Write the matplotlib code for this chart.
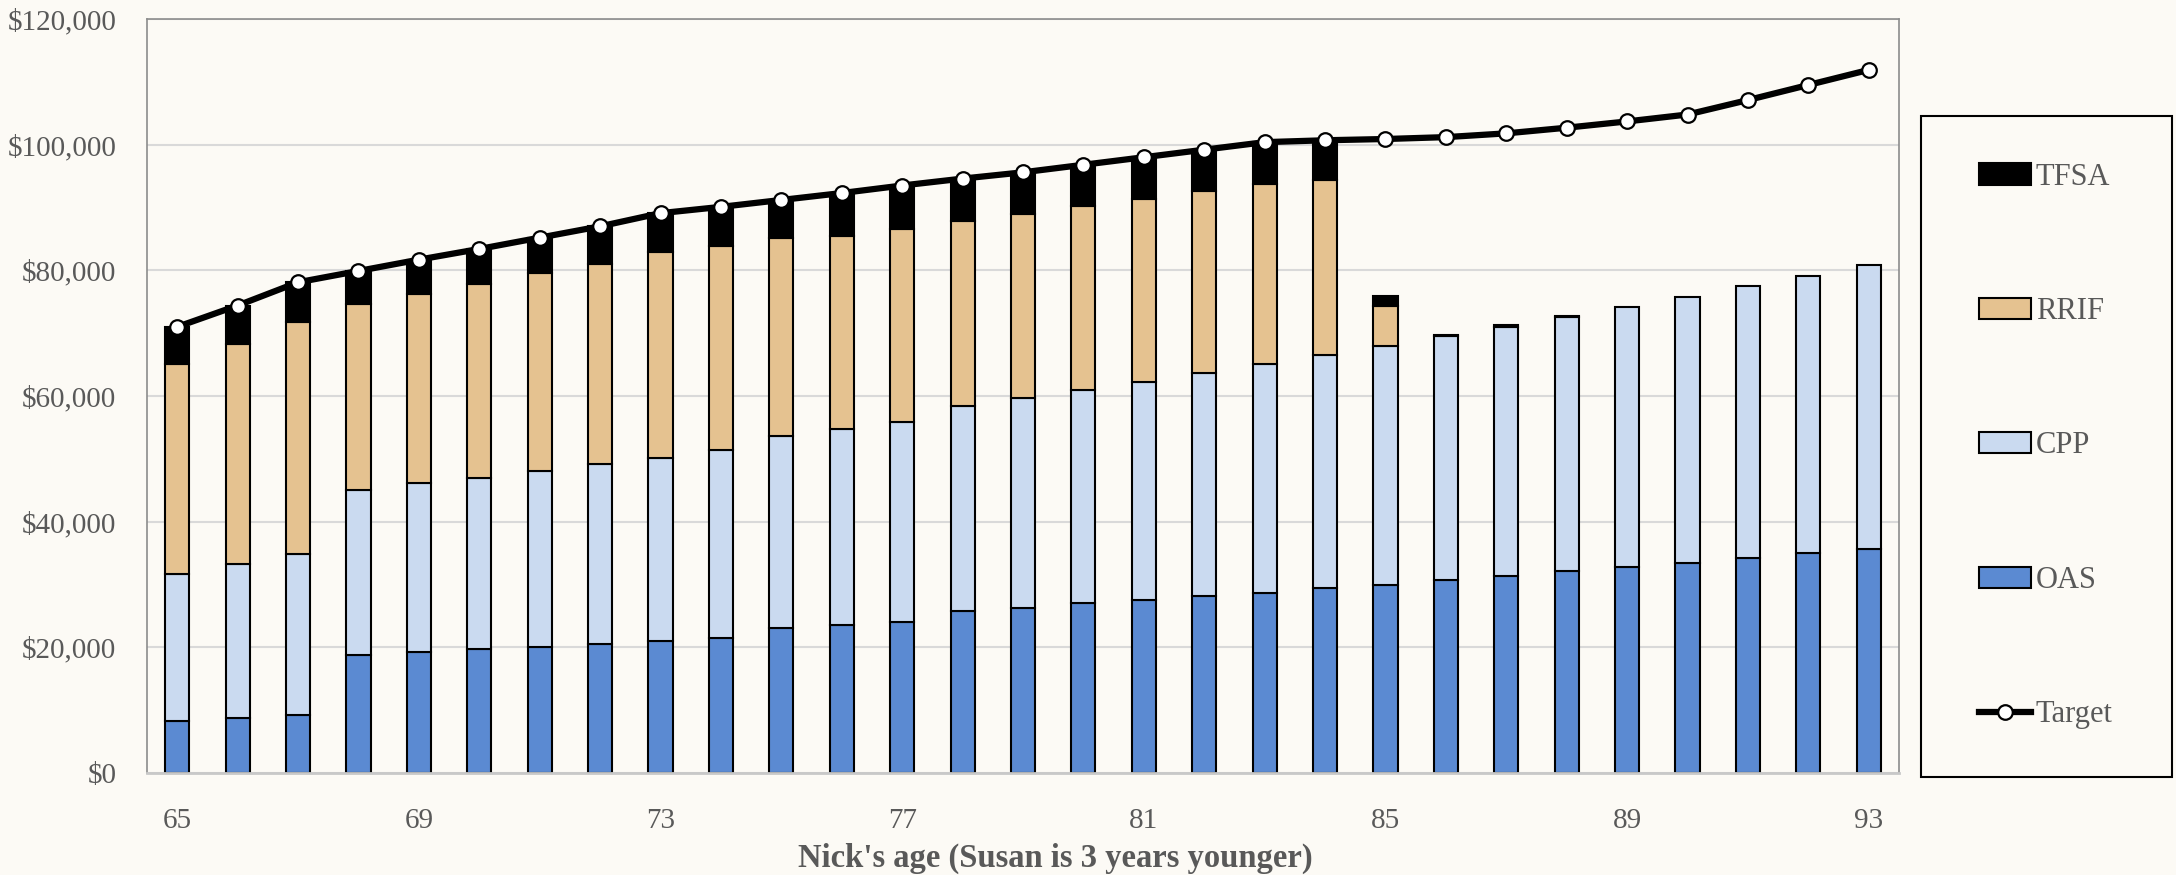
"""Retirement income sources vs target spending, stacked by source."""
import numpy as np
import matplotlib
matplotlib.use("Agg")
import matplotlib.pyplot as plt
from matplotlib.patches import Rectangle, Patch
from matplotlib.lines import Line2D
from matplotlib.ticker import FuncFormatter

plt.rcParams["font.family"] = ["Liberation Serif", "DejaVu Serif"]

BG = "#FCFAF5"
TXT = "#595959"
COL = {"OAS": "#5B8AD2", "CPP": "#CADAF0", "RRIF": "#E5C290", "TFSA": "#000000"}

ages = np.arange(65, 94)
oas = [8300, 8700, 9200, 18800, 19200, 19700, 20000, 20500, 21000, 21500,
       23000, 23500, 24100, 25800, 26300, 27000, 27500, 28100, 28700, 29400,
       30000, 30700, 31400, 32100, 32800, 33500, 34200, 35000, 35700]
cpp = [23300, 24500, 25600, 26300, 26900, 27300, 28100, 28700, 29200, 29900,
       30600, 31300, 31800, 32600, 33400, 34000, 34800, 35600, 36400, 37200,
       37900, 38800, 39600, 40400, 41400, 42300, 43300, 44100, 45200]
rrif = [33500, 35100, 36900, 29600, 30200, 30900, 31500, 31800, 32700, 32400,
        31500, 30700, 30700, 29400, 29300, 29200, 29000, 28900, 28700, 27700,
        6500, 0, 0, 0, 0, 0, 0, 0, 0]
tfsa = [5900, 6100, 6400, 5200, 5400, 5500, 5600, 6000, 6200, 6300,
        6100, 6800, 6900, 6800, 6600, 6600, 6700, 6600, 6600, 6400,
        1500, 250, 250, 200, 0, 0, 0, 0, 0]
target = [71000, 74400, 78100, 79900, 81700, 83400, 85200, 87000, 89100, 90100,
          91200, 92300, 93500, 94600, 95600, 96800, 98000, 99200, 100400, 100700,
          100900, 101200, 101800, 102700, 103700, 104800, 107100, 109500, 111900]

W, H = 2176, 875
fig = plt.figure(figsize=(W / 100, H / 100), dpi=100, facecolor=BG)
ax = fig.add_axes([147 / W, 1 - 773 / H, (1899 - 147) / W, (773 - 19) / H])
ax.set_facecolor(BG)

bottom = np.zeros(len(ages))
for name, vals in [("OAS", oas), ("CPP", cpp), ("RRIF", rrif), ("TFSA", tfsa)]:
    v = np.array(vals, dtype=float)
    ax.bar(ages, v, 0.4, bottom=bottom, color=COL[name], edgecolor="black",
           linewidth=np.where(v > 0, 1.5, 0), zorder=2)
    bottom += v

ax.plot(ages, target, "-o", color="black", lw=4.5, ms=10.5, mfc="white",
        mec="black", mew=1.6, zorder=3)

ax.set_xlim(64.5, 93.5)
ax.set_ylim(0, 120000)
ax.set_yticks(np.arange(0, 120001, 20000))
ax.yaxis.set_major_formatter(FuncFormatter(lambda v, p: f"${v:,.0f}"))
ax.set_xticks(np.arange(65, 94, 4))
ax.tick_params(axis="x", length=0, pad=25, labelsize=21, labelcolor=TXT)
ax.tick_params(axis="y", length=0, pad=22, labelsize=21, labelcolor=TXT)
ax.grid(axis="y", color="#D9D9D9", lw=1.5, zorder=0)
ax.set_axisbelow(True)
for s in ["left", "top", "right"]:
    ax.spines[s].set_color("#8C8C8C")
    ax.spines[s].set_linewidth(1.2)
ax.spines["bottom"].set_color("#C8C8C8")
ax.spines["bottom"].set_linewidth(2)

fig.text(1055 / W, 1 - 858 / H, "Nick's age (Susan is 3 years younger)",
         ha="center", va="center", fontsize=23.5, fontweight="bold", color=TXT)

# legend: frame drawn separately so it can match the reference box
fig.patches.append(Rectangle((1921 / W, 1 - 777 / H), (2172 - 1921) / W, (777 - 116) / H,
                             transform=fig.transFigure, fill=False, ec="black", lw=1.5))
handles = [Patch(fc=COL["TFSA"], ec="black", lw=1.5),
           Patch(fc=COL["RRIF"], ec="black", lw=1.5),
           Patch(fc=COL["CPP"], ec="black", lw=1.5),
           Patch(fc=COL["OAS"], ec="black", lw=1.5),
           Line2D([], [], color="black", lw=4.5, marker="o", ms=10.5, mfc="white", mec="black", mew=1.6)]
leg = fig.legend(handles, ["TFSA", "RRIF", "CPP", "OAS", "Target"], loc="center",
                 bbox_to_anchor=(2046 / W, 1 - 446 / H), frameon=False, fontsize=22,
                 handlelength=1.7, handleheight=0.7, handletextpad=0.15, labelspacing=3.45,
                 labelcolor=TXT)

fig.savefig("out.png", dpi=100, facecolor=BG)
